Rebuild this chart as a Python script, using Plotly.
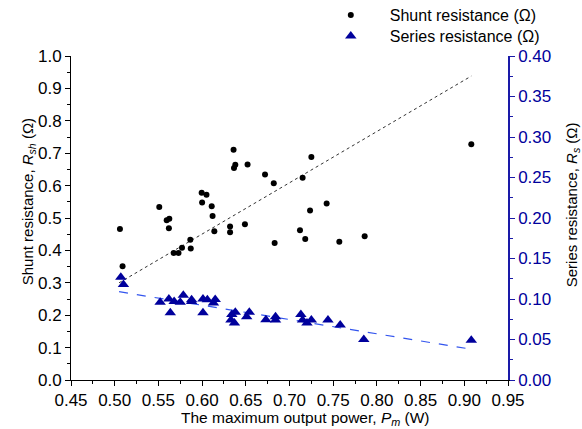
import plotly.graph_objects as go

# Maximum output power P_m (W) and shunt resistance R_sh (ohm)
pm_shunt = [0.506, 0.509, 0.551, 0.5595, 0.5625, 0.562, 0.5675, 0.573, 0.577,
            0.5865, 0.587, 0.5995, 0.605, 0.600, 0.611, 0.612, 0.614, 0.636,
            0.638, 0.6365, 0.652, 0.632, 0.632, 0.649, 0.672, 0.682, 0.683,
            0.725, 0.715, 0.7425, 0.7235, 0.712, 0.718, 0.757, 0.786, 0.908]
r_shunt = [0.466, 0.351, 0.534, 0.493, 0.498, 0.468, 0.392, 0.392, 0.408,
           0.433, 0.406, 0.578, 0.572, 0.548, 0.536, 0.506, 0.459, 0.711,
           0.664, 0.654, 0.665, 0.474, 0.456, 0.481, 0.634, 0.607, 0.423,
           0.688, 0.624, 0.545, 0.523, 0.462, 0.435, 0.427, 0.444, 0.728]

# Maximum output power P_m (W) and series resistance R_s (ohm)
pm_series = [0.507, 0.510, 0.552, 0.562, 0.568, 0.575, 0.5785, 0.5636, 0.588,
             0.588, 0.601, 0.606, 0.615, 0.613, 0.601, 0.634, 0.638, 0.633,
             0.637, 0.654, 0.651, 0.673, 0.684, 0.684, 0.713, 0.715, 0.720,
             0.725, 0.744, 0.758, 0.785, 0.908]
r_series = [0.127, 0.118, 0.096, 0.100, 0.097, 0.096, 0.1045, 0.083, 0.099,
            0.097, 0.100, 0.099, 0.0995, 0.095, 0.083, 0.081, 0.0835, 0.074,
            0.0705, 0.0835, 0.078, 0.0745, 0.078, 0.074, 0.081, 0.074, 0.0705,
            0.074, 0.074, 0.068, 0.050, 0.049]

# Linear trend lines (end points)
trend_pm = [0.505, 0.908]
trend_shunt = [0.300, 0.938]
trend_series = [0.109, 0.038]

x_ticks = [0.45, 0.50, 0.55, 0.60, 0.65, 0.70, 0.75, 0.80, 0.85, 0.90, 0.95]
left_ticks = [0.0, 0.1, 0.2, 0.3, 0.4, 0.5, 0.6, 0.7, 0.8, 0.9, 1.0]
right_ticks = [0.00, 0.05, 0.10, 0.15, 0.20, 0.25, 0.30, 0.35, 0.40]

NAVY = "#00009c"
AXIS_BLUE = "#1a1aa8"
TICK_FONT = dict(family="Liberation Sans, Arial", size=17, color="black")
TEXT_FONT = dict(family="Liberation Sans, Arial", size=15, color="black")
LEGEND_FONT = dict(family="Liberation Sans, Arial", size=16, color="black")

fig = go.Figure()

fig.add_trace(go.Scatter(
    x=trend_pm, y=trend_shunt, mode="lines", showlegend=False,
    line=dict(color="#333333", width=1, dash="dot"), hoverinfo="skip"))
fig.add_trace(go.Scatter(
    x=trend_pm, y=trend_series, mode="lines", showlegend=False, yaxis="y2",
    line=dict(color="#3355ee", width=1.2, dash="dash"), hoverinfo="skip"))

fig.add_trace(go.Scatter(
    x=pm_shunt, y=r_shunt, mode="markers", name="Shunt resistance (Ω)",
    legend="legend",
    marker=dict(symbol="circle", size=6, color="black")))
fig.add_trace(go.Scatter(
    x=pm_series, y=r_series, mode="markers", name="Series resistance (Ω)",
    yaxis="y2", legend="legend2",
    marker=dict(symbol="triangle-up", size=10, color=NAVY)))

legend_common = dict(xanchor="left", yanchor="middle", bgcolor="rgba(0,0,0,0)",
                     font=LEGEND_FONT, itemwidth=68)

fig.update_layout(
    width=582, height=429,
    margin=dict(l=71, r=74, t=56, b=49, autoexpand=False),
    paper_bgcolor="white", plot_bgcolor="white",
    font=TEXT_FONT,
    showlegend=True,
    legend=dict(legend_common, x=0.551, y=1.1265),
    legend2=dict(legend_common, x=0.551, y=1.0617),
    xaxis=dict(
        range=[0.45, 0.95], tickvals=x_ticks,
        ticktext=[f"{v:.2f}" for v in x_ticks],
        showgrid=False, zeroline=False, showline=True, linecolor="black",
        linewidth=1, ticks="outside", ticklen=5, tickcolor="black",
        tickfont=TICK_FONT, automargin=False,
        minor=dict(dtick=0.025, ticks="outside", ticklen=3, tickcolor="black",
                   showgrid=False)),
    yaxis=dict(
        range=[0, 1.0], tickvals=left_ticks,
        ticktext=[f"{v:.1f}" for v in left_ticks],
        showgrid=False, zeroline=False, showline=True, linecolor="black",
        linewidth=1, ticks="outside", ticklen=5, tickcolor="black",
        tickfont=TICK_FONT, automargin=False,
        minor=dict(dtick=0.05, ticks="outside", ticklen=3, tickcolor="black",
                   showgrid=False)),
    yaxis2=dict(
        range=[0, 0.40], tickvals=right_ticks,
        ticktext=[f"{v:.2f}" for v in right_ticks],
        overlaying="y", side="right", anchor="x",
        showgrid=False, zeroline=False, showline=True, linecolor=AXIS_BLUE,
        linewidth=1.5, ticks="outside", ticklen=5, tickcolor=AXIS_BLUE,
        tickfont=dict(TICK_FONT, color=NAVY), automargin=False,
        minor=dict(dtick=0.025, ticks="outside", ticklen=3,
                   tickcolor=AXIS_BLUE, showgrid=False)),
    annotations=[
        dict(text="The maximum output power, <i>P</i><sub><i>m</i></sub> (W)",
             xref="paper", yref="paper", x=0.537, y=-0.12,
             xanchor="center", yanchor="middle", showarrow=False,
             font=dict(TEXT_FONT, size=15.5)),
        dict(text="Shunt resistance, <i>R</i><sub><i>sh</i></sub> (Ω)",
             xref="paper", yref="paper", x=-0.098, y=0.549, textangle=-90,
             xanchor="center", yanchor="middle", showarrow=False,
             font=TEXT_FONT),
        dict(text="Series resistance, <i>R</i><sub><i>s</i></sub> (Ω)",
             xref="paper", yref="paper", x=1.147, y=0.540, textangle=-90,
             xanchor="center", yanchor="middle", showarrow=False,
             font=TEXT_FONT),
    ],
)

fig.write_html("out.html")
